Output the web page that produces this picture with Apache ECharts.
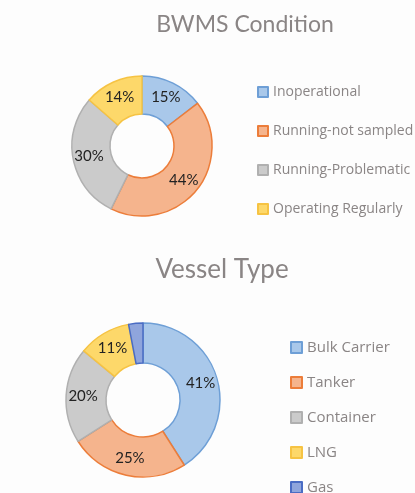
<!DOCTYPE html>
<html>
<head>
<meta charset="utf-8">
<script src="https://cdn.jsdelivr.net/npm/echarts@6/dist/echarts.min.js"></script>
<style>
  html, body { margin: 0; padding: 0; background: #fdfdfd; }
  #main { width: 415px; height: 493px; }
</style>
</head>
<body>
<div id="main"></div>
<script>
// BWMS 狀態
var bwmsNames = ['Inoperational', 'Running-not sampled', 'Running-Problematic', 'Operating Regularly'];
var bwmsValues = [15, 44, 30, 14];

// 船型
var vesselNames = ['Bulk Carrier', 'Tanker', 'Container', 'LNG', 'Gas'];
var vesselValues = [41, 25, 20, 11, 3];

var fills = ['#a9c8ea', '#f5b48d', '#cbcbcb', '#fdd86a', '#8fa5dc'];
var borders = ['#6e9fd6', '#ec7d3a', '#b0b0b0', '#f6c343', '#4a6cc4'];

function toData(names, values) {
  return names.map(function (n, i) {
    return {
      name: n,
      value: values[i],
      itemStyle: { color: fills[i], borderColor: borders[i], borderWidth: 1.5 }
    };
  });
}

var chart = echarts.init(document.getElementById('main'));

var labelStyle = {
  show: true,
  position: 'inside',
  formatter: '{c}%',
  color: '#222',
  fontSize: 15,
  fontFamily: 'Lato'
};

var option = {
  backgroundColor: '#fdfdfd',
  animation: false,
  title: [
    {
      text: 'BWMS Condition',
      left: 240, top: 8,
      textAlign: 'center',
      textStyle: { color: '#8a8585', fontSize: 23, fontWeight: 'normal', fontFamily: 'Lato' }
    },
    {
      text: 'Vessel Type',
      left: 217, top: 252,
      textAlign: 'center',
      textStyle: { color: '#8a8585', fontSize: 26, fontWeight: 'normal', fontFamily: 'Lato' }
    }
  ],
  legend: [
    {
      data: bwmsNames,
      orient: 'vertical',
      left: 252, top: 80,
      height: 160,
      itemWidth: 10, itemHeight: 10,
      itemGap: 25,
      icon: 'rect',
      textStyle: { color: '#8a8585', fontSize: 14, fontFamily: 'Open Sans' }
    },
    {
      data: vesselNames,
      orient: 'vertical',
      left: 285, top: 335,
      height: 170,
      itemWidth: 11, itemHeight: 11,
      itemGap: 20,
      icon: 'rect',
      textStyle: { color: '#8a8585', fontSize: 15, fontFamily: 'Open Sans' }
    }
  ],
  series: [
    {
      name: 'BWMS Condition',
      type: 'pie',
      center: [142, 146],
      radius: [32, 70],
      startAngle: 90,
      label: labelStyle,
      labelLine: { show: false },
      data: toData(bwmsNames, bwmsValues)
    },
    {
      name: 'Vessel Type',
      type: 'pie',
      center: [143, 400],
      radius: [37, 77],
      startAngle: 90,
      label: labelStyle,
      labelLine: { show: false },
      data: toData(vesselNames, vesselValues)
    }
  ]
};

chart.setOption(option);
</script>
</body>
</html>
